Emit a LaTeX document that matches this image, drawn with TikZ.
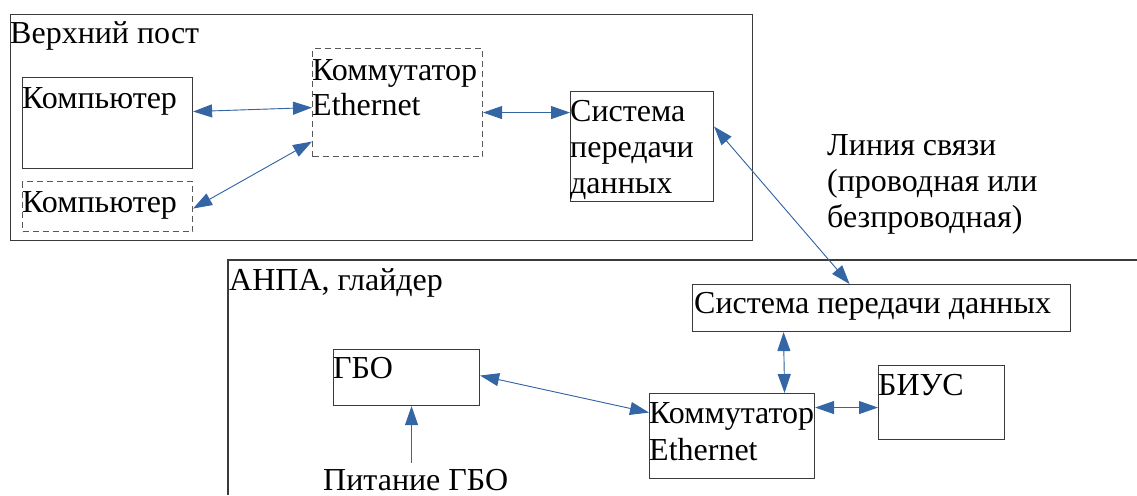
\documentclass[tikz,border=0pt]{standalone}
\usepackage{fontspec}
\setmainfont{Liberation Serif}
\usetikzlibrary{arrows.meta,calc}
\definecolor{linkblue}{HTML}{3465A4}
\definecolor{frame}{HTML}{3A3A3A}
\tikzset{
  box/.style={draw=frame, line width=1.1pt, rectangle, inner sep=0pt, anchor=north west},
  dbox/.style={box, draw=frame!85, dash pattern=on 6pt off 4pt},
  txt/.style={anchor=base west, inner sep=0pt, font=\fontsize{32}{36}\selectfont},
  arr/.style={draw=linkblue, fill=linkblue, line width=0.9pt,
    {Triangle[length=19pt,width=13pt]}-{Triangle[length=19pt,width=13pt]}},
  arrone/.style={draw=linkblue, line width=0.9pt, -{Triangle[length=19pt,width=13pt]}}
}
\begin{document}
\begin{tikzpicture}[x=1pt,y=-1pt]
\useasboundingbox (0,0) rectangle (1137,495);

% upper station frame
\node[box, minimum width=742pt, minimum height=226pt] (top) at (10,14) {};
\node[txt] (ttop) at (10,44) {Верхний пост};

% computers
\node[box, minimum width=170pt, minimum height=91pt] (pc1) at (22,77) {};
\node[txt] (tpc1) at (22,108) {Компьютер};
\node[dbox, minimum width=170pt, minimum height=50pt] (pc2) at (22,181) {};
\node[txt] (tpc2) at (22,212) {Компьютер};

% upper switch
\node[dbox, minimum width=170pt, minimum height=108pt] (sw1) at (312,48) {};
\node[txt] (tsw1a) at (312,80) {Коммутатор};
\node[txt] (tsw1b) at (312,115) {Ethernet};

% upper data link
\node[box, minimum width=143pt, minimum height=110pt] (sp1) at (570,91) {};
\node[txt] (tsp1a) at (570,121) {Система};
\node[txt] (tsp1b) at (570,157) {передачи};
\node[txt] (tsp1c) at (570,193) {данных};

% link caption
\node[txt] (tl1) at (827,155) {Линия связи};
\node[txt] (tl2) at (827,191) {(проводная или};
\node[txt] (tl3) at (827,227) {безпроводная)};

% vehicle frame (open to the page edges)
\coordinate (vtr) at (1137,260);
\coordinate (vtl) at (228,260);
\coordinate (vbl) at (228,495);
\draw[draw=frame, line width=1.1pt] (vtr) -- (vtl) -- (vbl);
\node[txt] (tveh) at (229,290) {АНПА, глайдер};

% vehicle data link
\node[box, minimum width=378pt, minimum height=47pt] (sp2) at (692,284) {};
\node[txt] (tsp2) at (694,313) {Система передачи данных};

% sonar
\node[box, minimum width=146pt, minimum height=56pt] (gbo) at (333,349) {};
\node[txt] (tgbo) at (333,378) {ГБО};

% vehicle switch
\node[box, minimum width=165pt, minimum height=85pt] (sw2) at (649,393) {};
\node[txt] (tsw2a) at (649,423) {Коммутатор};
\node[txt] (tsw2b) at (649,460) {Ethernet};

% control unit
\node[box, minimum width=126pt, minimum height=74pt] (biu) at (878,365) {};
\node[txt] (tbiu) at (878,395) {БИУС};

% power label
\node[txt, inner ysep=6pt, text height=21pt, text depth=0pt] (pwr) at (323,490) {Питание ГБО};
\coordinate (gboin) at ([xshift=5pt]gbo.south);

% connections
\draw[arr] ([yshift=11.5pt]pc1.east) -- ([yshift=-5pt]sw1.west);
\draw[arr] ([yshift=-2pt]pc2.east) -- ([yshift=-39pt]sw1.west);
\draw[arr] ([yshift=-10pt]sw1.east) -- ([yshift=34pt]sp1.west);
\draw[arr] ([yshift=20pt]sp1.east) -- ([xshift=-32pt]sp2.north);
\draw[arr] ([xshift=-98pt]sp2.south) -- ([xshift=52.5pt]sw2.north);
\draw[arr] ([yshift=28.5pt]sw2.east) -- ([yshift=-5pt]biu.west);
\draw[arr] ([yshift=2pt]gbo.east) -- ([yshift=23.5pt]sw2.west);
\draw[arrone] (pwr.north -| gboin) -- (gboin);
\end{tikzpicture}
\end{document}
